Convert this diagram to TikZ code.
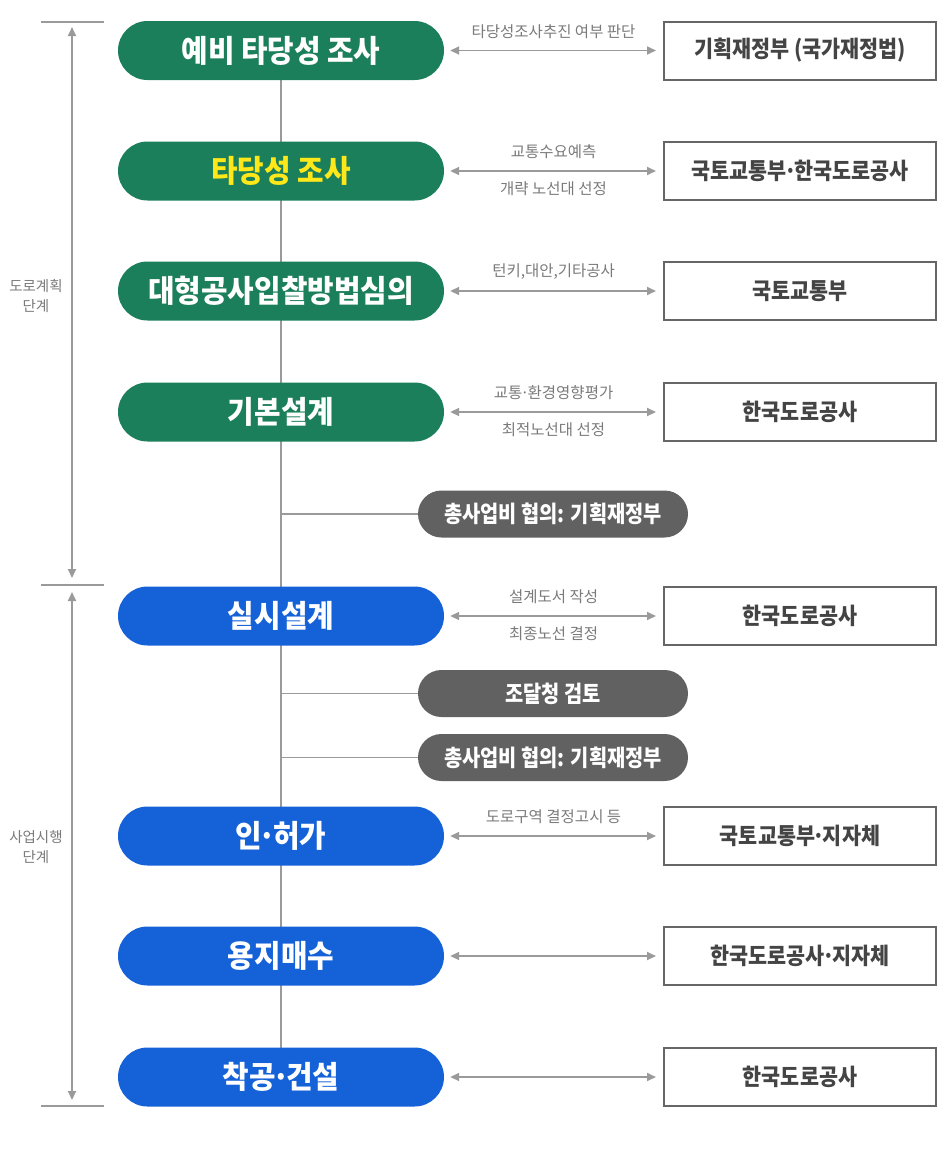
\documentclass[tikz,border=0pt]{standalone}
\usepackage{fontspec}
\setmainfont{Noto Sans CJK KR}
\usepackage{tikz}
\usetikzlibrary{arrows.meta,backgrounds}
\definecolor{stagegreen}{HTML}{1B7F5B}
\definecolor{stageblue}{HTML}{1562D8}
\definecolor{notegray}{HTML}{616161}
\definecolor{linegray}{HTML}{9A9A9A}
\definecolor{boxgray}{HTML}{666666}
\definecolor{textgray}{HTML}{444444}
\definecolor{labelgray}{HTML}{7A7A7A}
\definecolor{titleyellow}{HTML}{FFE81A}
\newcommand{\mdot}{\hbox to .34em{\hss·\hss}}% narrow middle dot

\tikzset{
  stage/.style={rectangle, rounded corners=29.5pt, minimum width=326pt, minimum height=59pt,
    inner sep=0pt, text=white, font=\fontsize{31}{34}\selectfont\bfseries\addfontfeature{FakeStretch=0.93}},
  note/.style={rectangle, rounded corners=23.5pt, fill=notegray, minimum width=270pt,
    minimum height=47pt, inner sep=0pt, text=white,
    font=\fontsize{23}{26}\selectfont\bfseries\addfontfeature{FakeStretch=0.86}},
  agency/.style={draw=boxgray, line width=2pt, minimum width=272pt, minimum height=58pt,
    inner sep=0pt, text=textgray, font=\fontsize{23}{26}\selectfont\bfseries\addfontfeature{FakeStretch=0.9}},
  link/.style={linegray, line width=1.8pt, {Triangle[length=9pt,width=8pt]}-{Triangle[length=9pt,width=8pt]},
    shorten <=6pt, shorten >=7pt},
  spine/.style={linegray, line width=1.8pt},
  tag/.style={text=labelgray, font=\fontsize{15.5}{17}\selectfont, inner sep=0pt},
  phase/.style={text=labelgray, font=\fontsize{14.5}{20}\selectfont, align=center, inner sep=0pt},
}

\begin{document}
\begin{tikzpicture}[x=1pt,y=-1pt]
\useasboundingbox (0,0) rectangle (949,1160);

% Stages
\node[stage, fill=stagegreen] (s1) at (281,50.5) {예비 타당성 조사};
\node[stage, fill=stagegreen, text=titleyellow] (s2) at (281,171) {타당성 조사};
\node[stage, fill=stagegreen] (s3) at (281,291) {대형공사입찰방법심의};
\node[stage, fill=stagegreen] (s4) at (281,412) {기본설계};
\node[stage, fill=stageblue] (s5) at (281,616) {실시설계};
\node[stage, fill=stageblue] (s6) at (281,836) {인\mdot 허가};
\node[stage, fill=stageblue] (s7) at (281,956) {용지매수};
\node[stage, fill=stageblue] (s8) at (281,1077) {착공\mdot 건설};

% Notes
\node[note] (n1) at (553,514) {총사업비 협의: 기획재정부};
\node[note] (n2) at (553,693.5) {조달청 검토};
\node[note] (n3) at (553,757.5) {총사업비 협의: 기획재정부};

% Agencies
\node[agency] (a1) at (800,50.5) {기획재정부 (국가재정법)};
\node[agency] (a2) at (800,171) {국토교통부\mdot 한국도로공사};
\node[agency] (a3) at (800,291) {국토교통부};
\node[agency] (a4) at (800,412) {한국도로공사};
\node[agency] (a5) at (800,616) {한국도로공사};
\node[agency] (a6) at (800,836) {국토교통부\mdot 지자체};
\node[agency] (a7) at (800,956) {한국도로공사\mdot 지자체};
\node[agency] (a8) at (800,1077) {한국도로공사};

% Spine
\begin{scope}[on background layer]
\draw[spine] (s1.center) -- (s8.center);
\end{scope}
\draw[spine] (n1.west) -- (n1.west -| s4.center);
\draw[spine] (n2.west) -- (n2.west -| s4.center);
\draw[spine] (n3.west) -- (n3.west -| s4.center);

% Links
\draw[link] (s1.east) -- (a1.west) node[tag, midway, above=11pt] {타당성조사추진 여부 판단};
\draw[link] (s2.east) -- (a2.west) node[tag, midway, above=11pt] {교통수요예측}
  node[tag, midway, below=10pt] {개략 노선대 선정};
\draw[link] (s3.east) -- (a3.west) node[tag, midway, above=11pt] {턴키,대안,기타공사};
\draw[link] (s4.east) -- (a4.west) node[tag, midway, above=11pt] {교통\mdot 환경영향평가}
  node[tag, midway, below=10pt] {최적노선대 선정};
\draw[link] (s5.east) -- (a5.west) node[tag, midway, above=11pt] {설계도서 작성}
  node[tag, midway, below=10pt] {최종노선 결정};
\draw[link] (s6.east) -- (a6.west) node[tag, midway, above=11pt] {도로구역 결정고시 등};
\draw[link] (s7.east) -- (a7.west);
\draw[link] (s8.east) -- (a8.west);

% Phases
\coordinate (top) at (72,22);
\coordinate (mid) at (72,585);
\coordinate (bot) at (72,1106);
\draw[spine] ([xshift=-31pt]top) -- ([xshift=32pt]top);
\draw[spine] ([xshift=-31pt]mid) -- ([xshift=32pt]mid);
\draw[spine] ([xshift=-31pt]bot) -- ([xshift=32pt]bot);
\draw[link, shorten <=5pt, shorten >=7pt] (top) -- (mid);
\draw[link, shorten <=7pt, shorten >=6pt] (mid) -- (bot);
\node[phase] (p1) at (36,296) {도로계획\\단계};
\node[phase] (p2) at (36,847) {사업시행\\단계};

\end{tikzpicture}
\end{document}
